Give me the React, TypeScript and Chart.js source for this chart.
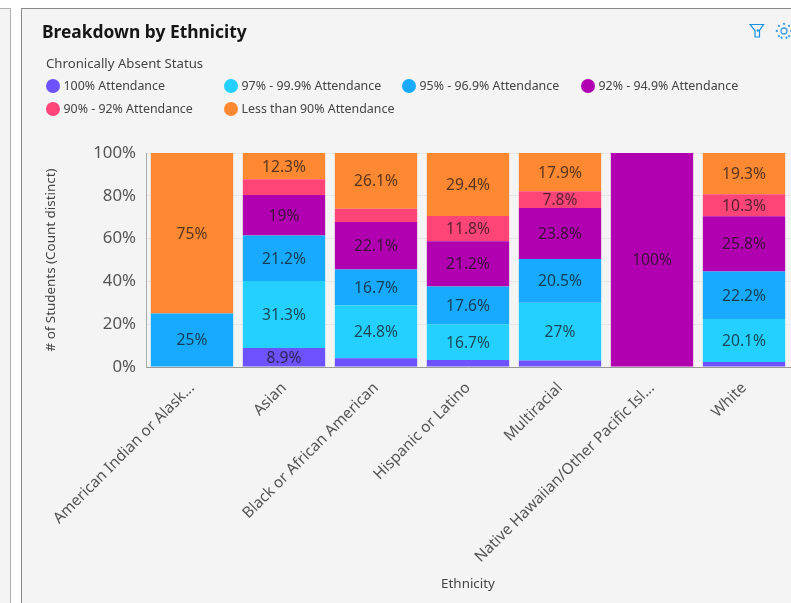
import React, { useEffect, useRef } from "react";
import { Chart, registerables } from "chart.js";

Chart.register(...registerables);

const FONT = '"Noto Sans", sans-serif';

const categories = [
  "American Indian or Alask...",
  "Asian",
  "Black or African American",
  "Hispanic or Latino",
  "Multiracial",
  "Native Hawaiian/Other Pacific Isl...",
  "White",
];

const seriesNames = [
  "100% Attendance",
  "97% - 99.9% Attendance",
  "95% - 96.9% Attendance",
  "92% - 94.9% Attendance",
  "90% - 92% Attendance",
  "Less than 90% Attendance",
];

const seriesColors = ["#6f52ff", "#24d0ff", "#18aaff", "#b000b0", "#ff4578", "#ff8833"];

const attendance100 = [0, 8.9, 4.1, 3.3, 3.0, 0, 2.3];
const attendance97 = [0, 31.3, 24.8, 16.7, 27, 0, 20.1];
const attendance95 = [25, 21.2, 16.7, 17.6, 20.5, 0, 22.2];
const attendance92 = [0, 19, 22.1, 21.2, 23.8, 100, 25.8];
const attendance90 = [0, 7.3, 6.2, 11.8, 7.8, 0, 10.3];
const attendanceLow = [75, 12.3, 26.1, 29.4, 17.9, 0, 19.3];

const seriesValues = [attendance100, attendance97, attendance95, attendance92, attendance90, attendanceLow];

const MIN_LABELLED = 7.5;

// Writes each segment's percentage in its centre, skipping the thin ones.
const segmentLabels = {
  id: "segmentLabels",
  afterDatasetsDraw(chart: any) {
    const { ctx } = chart;
    ctx.save();
    ctx.font = `15.6px ${FONT}`;
    ctx.textAlign = "center";
    ctx.textBaseline = "middle";
    ctx.fillStyle = "rgba(20,20,20,0.72)";
    chart.data.datasets.forEach((ds: any, i: number) => {
      chart.getDatasetMeta(i).data.forEach((bar: any, j: number) => {
        const v = ds.data[j];
        if (v < MIN_LABELLED) return;
        const c = bar.getCenterPoint();
        ctx.fillText(`${v}%`, c.x, c.y + 1);
      });
    });
    ctx.restore();
  },
};

const legendColumns = [46, 224, 402, 581];

export default function App() {
  const ref = useRef<HTMLCanvasElement>(null);

  useEffect(() => {
    document.body.style.margin = "0";
    const chart = new Chart(ref.current!, {
      type: "bar",
      data: {
        labels: categories,
        datasets: seriesNames.map((name, i) => ({
          label: name,
          data: seriesValues[i],
          backgroundColor: seriesColors[i],
          borderWidth: 0,
          categoryPercentage: 1,
          barPercentage: 0.895,
        })),
      },
      options: {
        animation: false,
        responsive: false,
        layout: { padding: { top: 153, left: 22, right: 1, bottom: 11 } },
        plugins: { legend: { display: false }, title: { display: false }, tooltip: { enabled: false } },
        scales: {
          x: {
            stacked: true,
            grid: { display: false },
            border: { color: "#9a9a9a" },
            ticks: {
              autoSkip: false,
              maxRotation: 45,
              minRotation: 45,
              color: "#555",
              font: { family: FONT, size: 15.3 },
              padding: 4,
            },
            title: { display: true, text: "Ethnicity", color: "#444", font: { family: FONT, size: 13.4 }, padding: 0 },
            afterFit: (s: any) => {
              s.height = 225;
            },
          },
          y: {
            stacked: true,
            min: 0,
            max: 100,
            grid: { color: "#e6e6e6", drawTicks: false },
            border: { color: "#aaa" },
            ticks: {
              stepSize: 20,
              color: "#555",
              font: { family: FONT, size: 16.8 },
              padding: 10,
              callback: (v: any) => `${v}%`,
            },
            title: {
              display: true,
              text: "# of Students (Count distinct)",
              color: "#444",
              font: { family: FONT, size: 13.4 },
              padding: 0,
            },
            afterFit: (s: any) => {
              s.width = 103;
            },
          },
        },
      },
      plugins: [segmentLabels],
    } as any);
    return () => chart.destroy();
  }, []);

  return (
    <div style={{ position: "absolute", left: 0, top: 0, width: 791, height: 603, overflow: "hidden", background: "#fff", fontFamily: FONT }}>
      <div style={{ position: "absolute", left: -2, top: 8, width: 11, height: 600, background: "#f4f4f4", border: "1px solid #b0b0b0" }} />
      <div style={{ position: "absolute", left: 21, top: 8, width: 800, height: 600, background: "#f4f4f4", border: "1px solid #888" }} />
      <canvas ref={ref} width={770} height={603} style={{ position: "absolute", left: 21, top: 0, display: "block" }} />
      <div style={{ position: "absolute", left: 42, top: 19, fontSize: 17.4, fontWeight: 700, color: "#161616", whiteSpace: "nowrap" }}>
        Breakdown by Ethnicity
      </div>
      <div style={{ position: "absolute", left: 46, top: 54, fontSize: 13.2, color: "#444", whiteSpace: "nowrap" }}>
        Chronically Absent Status
      </div>
      {seriesNames.map((name, i) => (
        <div
          key={name}
          style={{
            position: "absolute",
            left: legendColumns[i % 4],
            top: i < 4 ? 77 : 100,
            display: "flex",
            alignItems: "center",
            gap: 3.5,
            fontSize: 12.4,
            color: "#444",
            whiteSpace: "nowrap",
          }}
        >
          <span style={{ width: 14, height: 14, borderRadius: "50%", background: seriesColors[i], display: "inline-block" }} />
          {name}
        </div>
      ))}
      <svg style={{ position: "absolute", left: 749, top: 23 }} width={16} height={16} viewBox="0 0 16 16" fill="none" stroke="#1592e6" strokeWidth={1.2}>
        <path d="M1 1.5 H14.5 L10.5 7.5 V14 H6 V7.5 Z" />
        <circle cx="8.8" cy="7.5" r="1.2" fill="#1592e6" stroke="none" />
      </svg>
      <svg style={{ position: "absolute", left: 775, top: 22 }} width={18} height={18} viewBox="0 0 18 18" fill="#3a9fe6" stroke="none">
        <circle cx="9" cy="9" r="3" fill="none" stroke="#3a9fe6" strokeWidth={1.3} />
        {[0, 45, 90, 135, 225, 270, 315, 160, 200].map((a) => (
          <circle key={a} cx={9 + 7.2 * Math.sin((a * Math.PI) / 180)} cy={9 - 7.2 * Math.cos((a * Math.PI) / 180)} r={1.15} />
        ))}
      </svg>
    </div>
  );
}
